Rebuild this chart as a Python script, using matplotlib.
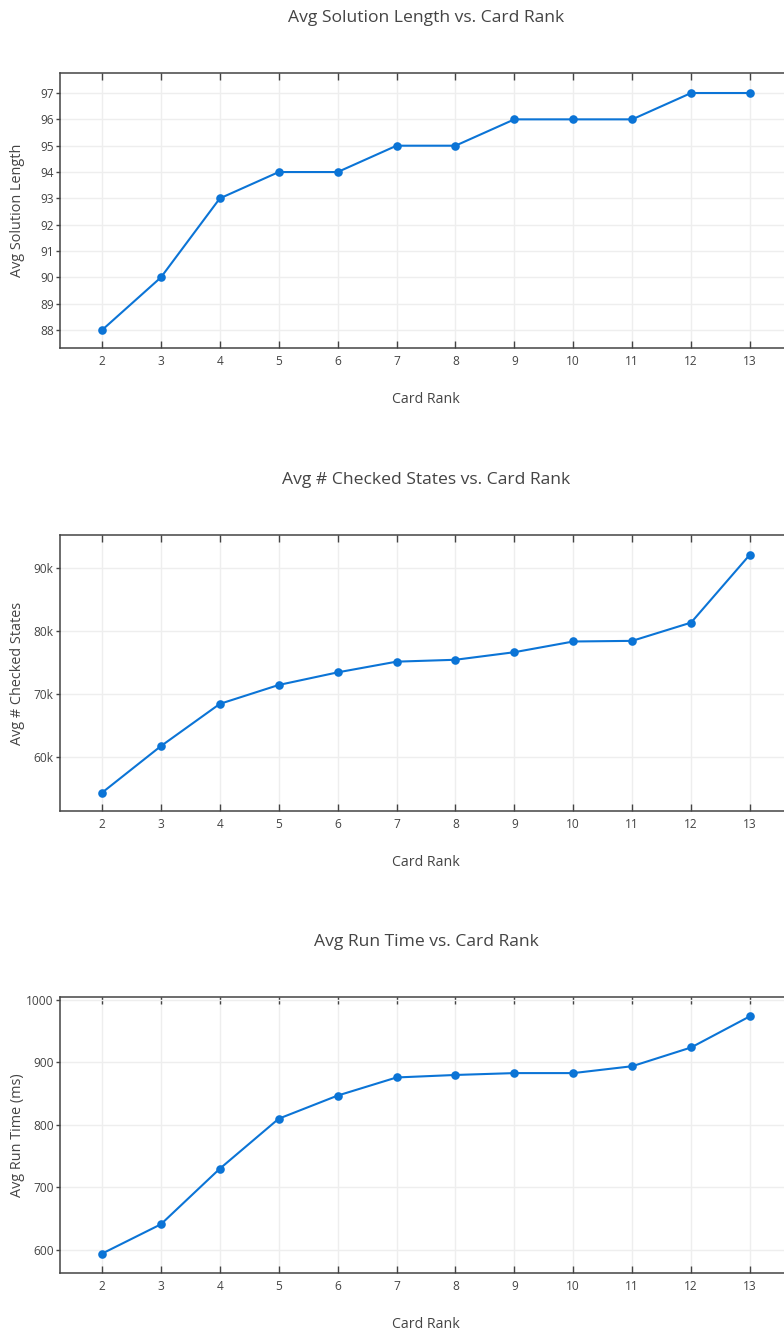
import matplotlib
matplotlib.use("Agg")
import matplotlib.pyplot as plt
from matplotlib.ticker import FuncFormatter, FixedLocator

plt.rcParams['font.family'] = ['Open Sans', 'DejaVu Sans']

card_rank = [2, 3, 4, 5, 6, 7, 8, 9, 10, 11, 12, 13]
avg_solution_length = [88, 90, 93, 94, 94, 95, 95, 96, 96, 96, 97, 97]
avg_checked_states = [54300, 61700, 68400, 71400, 73400, 75100, 75400, 76600, 78300, 78400, 81300, 92100]
avg_run_time = [594, 641, 730, 810, 847, 876, 880, 883, 883, 894, 924, 974]

titles = ["Avg Solution Length vs. Card Rank",
          "Avg # Checked States vs. Card Rank",
          "Avg Run Time vs. Card Rank"]
ylabels = ["Avg Solution Length", "Avg # Checked States", "Avg Run Time (ms)"]
xlabel = "Card Rank"
series = [avg_solution_length, avg_checked_states, avg_run_time]
yticks = [list(range(88, 98)), [60000, 70000, 80000, 90000], [600, 700, 800, 900, 1000]]
ylims = [(87.32, 97.76), (51400, 95200), (563, 1004.8)]

W, H = 784, 1333
fig = plt.figure(figsize=(W / 100, H / 100), dpi=100)

line_color = '#0B74D6'
text_color = '#444444'
grid_color = '#EEEEEE'

boxes = [(73, 348), (535, 811), (997, 1273)]
left_px, right_px = 60, 792

for i, (top, bot) in enumerate(boxes):
    ax = fig.add_axes([left_px / W, 1 - bot / H, (right_px - left_px) / W, (bot - top) / H])
    ax.plot(card_rank, series[i], color=line_color, lw=1.5, marker='o', ms=6.2,
            markeredgewidth=0, zorder=3, clip_on=False)
    ax.set_xlim(1.287, 13.713)
    ax.set_ylim(*ylims[i])
    ax.xaxis.set_major_locator(FixedLocator(card_rank))
    ax.yaxis.set_major_locator(FixedLocator(yticks[i]))
    if i == 1:
        ax.yaxis.set_major_formatter(FuncFormatter(lambda v, p: f"{int(round(v / 1000))}k"))
    else:
        ax.yaxis.set_major_formatter(FuncFormatter(lambda v, p: f"{int(round(v))}"))
    ax.grid(True, color=grid_color, lw=1.0, zorder=0)
    ax.set_axisbelow(True)
    for s in ['left', 'bottom', 'top', 'right']:
        ax.spines[s].set_color(text_color)
        ax.spines[s].set_linewidth(1.1)
    ax.tick_params(axis='x', direction='in', top=True, bottom=True, length=5, width=1,
                   color=text_color, labelcolor=text_color, labelsize=8.6, pad=5)
    ax.tick_params(axis='y', direction='out', left=True, length=3, width=1,
                   color=text_color, labelcolor=text_color, labelsize=8.6, pad=1.5)
    ax.set_xlabel(xlabel, fontsize=10.2, color=text_color, labelpad=17)
    ax.set_ylabel(ylabels[i], fontsize=10.4, color=text_color)
    ax.yaxis.set_label_coords(-0.048, 0.5)
    fig.text(426 / W, 1 - (top - 55) / H, titles[i], ha='center', va='center',
             fontsize=12.6, color=text_color)

fig.savefig("out.png", dpi=100)
